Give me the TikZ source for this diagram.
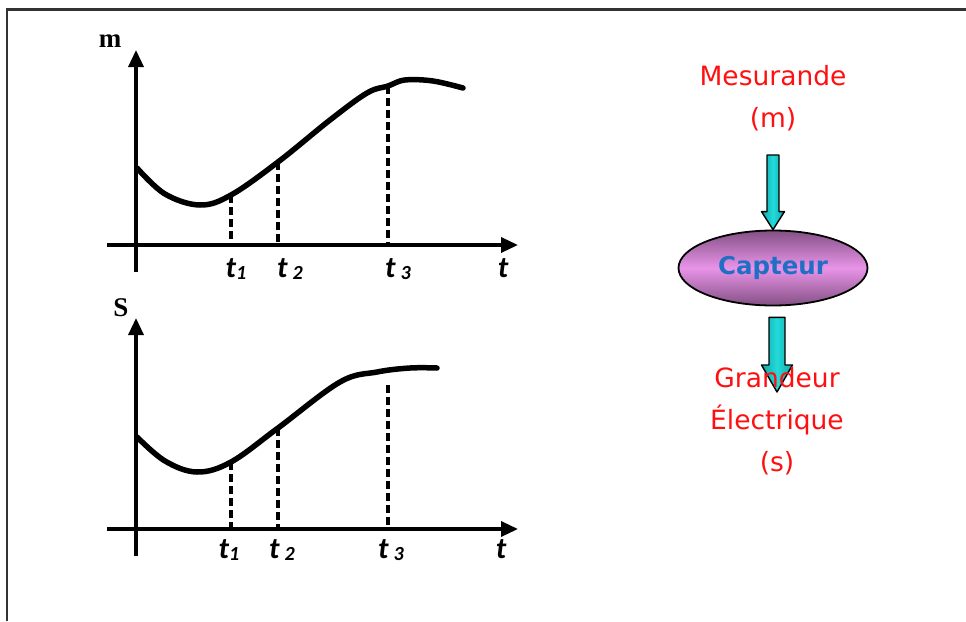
\documentclass[tikz,border=0pt]{standalone}
\usepackage{fontspec}
\newfontfamily\handfont{DejaVu Sans}
\newfontfamily\tickfont{Carlito}
\newfontfamily\varfont{Liberation Serif}
\usepackage[dvipsnames, svgnames, x11names]{xcolor}
\definecolor{textred}{HTML}{FF1010}
\definecolor{sensorblue}{HTML}{1F6FC4}
\definecolor{arrowcyan}{HTML}{22DADA}
\definecolor{arrowteal}{HTML}{10A8A8}
\definecolor{lilac}{HTML}{E894E8}
\definecolor{plum}{HTML}{845084}
\usepackage{tikz}
\usetikzlibrary{arrows.meta, positioning, shapes.geometric, calc}
\newcommand{\tsub}[2][\,]{t#1\raisebox{-0.2ex}{\fontsize{20}{20}\selectfont #2}}

\begin{document}
\begin{tikzpicture}[x=1pt, y=-1pt,
    axis/.style={line width=3.4pt, -{Triangle[length=17pt, width=15pt]}},
    curve/.style={line width=5.5pt, line cap=round, line join=round},
    guide/.style={line width=3.4pt, dash pattern=on 8pt off 4pt},
    tlabel/.style={anchor=base, inner sep=0pt, font=\tickfont\bfseries\itshape\fontsize{30}{32}\selectfont},
    varlabel/.style={inner sep=0pt, font=\varfont\bfseries\fontsize{27}{29}\selectfont},
    hand/.style={align=center, text=textred, font=\handfont\fontsize{26.5}{42}\selectfont},
    arrowbody/.style={draw=black, line width=1.4pt, line join=round, left color=arrowteal, right color=arrowteal, middle color=arrowcyan},
    sensor/.style={ellipse, draw=black, line width=1.8pt, minimum width=189pt, minimum height=75pt,
        top color=plum, bottom color=plum, middle color=lilac,
        text=sensorblue, font=\handfont\bfseries\fontsize{24.5}{26}\selectfont}]
    \useasboundingbox (0,0) rectangle (966,621);
    % frame
    \draw[line width=2.6pt, black!80] (7,621) -- (7,9.5) -- (966,9.5);

    % graph m(t)
    \coordinate (ma) at (136,245);
    \draw[axis] (136,272) -- (136,50);
    \draw[axis] (107,245) -- (518,245);
    \node[varlabel] (mlab) at (110,41) {m};
    \draw[curve] plot[smooth, tension=0.6] coordinates {(137,168) (165,194) (200,205) (231,195) (278,162) (330,120) (367,93) (388,86) (405,80) (433,81) (463,88)};
    \coordinate (m1) at (231,195);
    \coordinate (m2) at (278,162);
    \coordinate (m3) at (388,86);
    \foreach \p in {m1,m2,m3} {
        \draw[guide] (\p) -- (\p |- ma);
    }
    \node[tlabel] (mt1) at (236,277) {\tsub[]{1}};
    \node[tlabel] (mt2) at (290,277) {\tsub{2}};
    \node[tlabel] (mt3) at (398,277) {\tsub{3}};
    \node[tlabel] (mt) at (503,277) {t};

    % graph s(t)
    \coordinate (sa) at (136,529);
    \draw[axis] (136,556) -- (136,318);
    \draw[axis] (107,529) -- (518,529);
    \node[varlabel] (slab) at (121,308) {S};
    \draw[curve] plot[smooth, tension=0.6] coordinates {(137,437) (165,461) (197,472) (231,462) (278,428) (340,382) (377,372) (410,368) (437,368)};
    \coordinate (s1) at (231,462);
    \coordinate (s2) at (278,428);
    \coordinate (s3) at (388,385);
    \foreach \p in {s1,s2,s3} {
        \draw[guide] (\p) -- (\p |- sa);
    }
    \node[tlabel] (st1) at (229,558) {\tsub[]{1}};
    \node[tlabel] (st2) at (282,558) {\tsub{2}};
    \node[tlabel] (st3) at (391,558) {\tsub{3}};
    \node[tlabel] (st) at (501,558) {t};

    % capteur
    \node[hand] (mes) at (773,98) {Mesurande\\(m)};
    \node[sensor] (cap) at (773,268) {Capteur};
    \coordinate (a1top) at (773,155);
    \draw[arrowbody] ($(a1top)+(-6,0)$) -- ($(a1top)+(6,0)$) -- ($(cap.north)+(6,-18)$)
        -- ($(cap.north)+(11.5,-18)$) -- (cap.north) -- ($(cap.north)+(-11.5,-18)$)
        -- ($(cap.north)+(-6,-18)$) -- cycle;
    \coordinate (a2tip) at (777,392);
    \draw[arrowbody] ($(cap.south)+(-4,11)$) -- ($(cap.south)+(12,11)$) -- ($(a2tip)+(8,-27)$)
        -- ($(a2tip)+(15.5,-27)$) -- (a2tip) -- ($(a2tip)+(-15.5,-27)$)
        -- ($(a2tip)+(-8,-27)$) -- cycle;
    \node[hand] (out) at (777,421) {Grandeur\\Électrique\\(s)};
\end{tikzpicture}
\end{document}
